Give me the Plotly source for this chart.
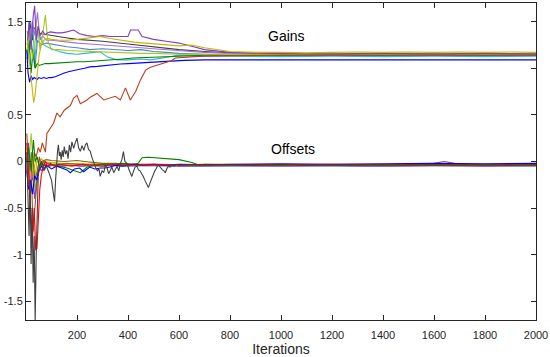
import plotly.graph_objects as go

# ---------------- Gains ----------------
g_blue_x = [3, 8, 14, 20, 26, 32, 38, 44, 50, 60, 70, 80, 90, 100, 115, 130, 150, 170, 190, 210, 230, 250, 280, 310, 340, 370, 400, 430, 460, 490, 520, 550, 580, 620, 700, 800, 900, 1000, 1100, 1200, 1300, 1400, 1500, 1600, 1700, 1800, 1900, 2000]
g_blue_y = [1.2, 0.95, 0.85, 0.92, 0.88, 0.9, 0.89, 0.88, 0.9, 0.89, 0.9, 0.89, 0.9, 0.9, 0.91, 0.93, 0.95, 0.965, 0.98, 0.99, 1.0, 1.015, 1.02, 1.03, 1.04, 1.045, 1.05, 1.055, 1.06, 1.065, 1.07, 1.075, 1.085, 1.085, 1.09, 1.09, 1.088, 1.09, 1.09, 1.09, 1.088, 1.09, 1.09, 1.088, 1.09, 1.09, 1.09, 1.09]

g_green_x = [5, 12, 20, 28, 36, 44, 52, 60, 75, 90, 110, 140, 170, 200, 230, 260, 300, 340, 380, 420, 460, 500, 540, 580, 620, 700, 800, 900, 1000, 1200, 1400, 1600, 1800, 2000]
g_green_y = [1.1, 1.3, 0.95, 1.2, 1.0, 1.05, 1.03, 1.04, 1.05, 1.05, 1.055, 1.06, 1.065, 1.07, 1.07, 1.075, 1.08, 1.09, 1.1, 1.11, 1.115, 1.12, 1.125, 1.13, 1.135, 1.14, 1.14, 1.145, 1.14, 1.145, 1.14, 1.145, 1.14, 1.145]

g_lime_x = [5, 15, 25, 35, 45, 55, 65, 76, 85, 100, 130, 160, 200, 250, 300, 350, 400, 450, 500, 550, 600, 700, 800, 900, 1000, 1200, 1400, 1600, 1800, 2000]
g_lime_y = [1.2, 1.4, 1.1, 1.3, 1.45, 1.2, 1.35, 1.57, 1.3, 1.2, 1.2, 1.19, 1.185, 1.18, 1.175, 1.17, 1.165, 1.16, 1.16, 1.155, 1.15, 1.15, 1.15, 1.15, 1.15, 1.15, 1.15, 1.15, 1.15, 1.15]

g_olive_x = [5, 12, 20, 26, 30, 35, 40, 45, 52, 60, 70, 85, 100, 130, 160, 200, 250, 290, 330, 380, 423, 470, 550, 600, 650, 700, 800, 900, 1000, 1100, 1200, 1300, 1400, 1500, 1600, 1700, 1800, 1900, 2000]
g_olive_y = [1.3, 1.1, 0.9, 0.7, 0.63, 0.7, 0.85, 1.0, 1.15, 1.25, 1.3, 1.32, 1.31, 1.3, 1.3, 1.31, 1.33, 1.34, 1.32, 1.3, 1.28, 1.27, 1.25, 1.24, 1.25, 1.22, 1.18, 1.17, 1.17, 1.165, 1.17, 1.175, 1.17, 1.175, 1.17, 1.175, 1.17, 1.175, 1.17]

g_purple_x = [5, 12, 20, 28, 34, 40, 48, 56, 65, 75, 85, 96, 120, 140, 160, 187, 210, 240, 270, 300, 330, 360, 400, 410, 423, 440, 455, 470, 500, 550, 600, 657, 700, 800, 900, 1000, 1200, 1400, 1600, 1800, 2000]
g_purple_y = [1.25, 1.5, 1.2, 1.55, 1.67, 1.3, 1.45, 1.35, 1.4, 1.36, 1.38, 1.39, 1.38, 1.38, 1.39, 1.41, 1.37, 1.35, 1.34, 1.35, 1.34, 1.34, 1.34, 1.41, 1.41, 1.41, 1.34, 1.33, 1.31, 1.29, 1.27, 1.23, 1.2, 1.17, 1.16, 1.155, 1.15, 1.155, 1.15, 1.155, 1.15]

g_violet_x = [5, 15, 25, 35, 45, 55, 65, 80, 100, 130, 160, 200, 250, 292, 340, 400, 450, 500, 550, 600, 650, 700, 800, 900, 1000, 1200, 1400, 1600, 1800, 2000]
g_violet_y = [1.4, 1.2, 1.5, 1.35, 1.6, 1.3, 1.35, 1.3, 1.3, 1.29, 1.28, 1.27, 1.26, 1.25, 1.24, 1.23, 1.22, 1.21, 1.2, 1.19, 1.18, 1.17, 1.16, 1.155, 1.15, 1.15, 1.15, 1.15, 1.15, 1.15]

g_steel_x = [5, 15, 25, 35, 45, 60, 80, 100, 130, 160, 200, 250, 300, 350, 400, 450, 500, 550, 600, 700, 800, 1000, 1200, 1400, 1600, 1800, 2000]
g_steel_y = [1.1, 1.4, 1.2, 1.0, 1.3, 1.25, 1.27, 1.26, 1.24, 1.23, 1.22, 1.2, 1.21, 1.2, 1.19, 1.2, 1.18, 1.17, 1.16, 1.15, 1.14, 1.14, 1.14, 1.14, 1.14, 1.14, 1.14]

g_cyan_x = [5, 15, 25, 35, 45, 60, 70, 90, 110, 130, 160, 200, 230, 260, 291, 320, 357, 400, 450, 488, 520, 560, 592, 650, 700, 800, 1000, 1200, 1400, 1600, 1800, 2000]
g_cyan_y = [1.0, 1.3, 1.5, 1.1, 1.4, 1.3, 1.25, 1.22, 1.2, 1.18, 1.16, 1.15, 1.16, 1.17, 1.177, 1.12, 1.09, 1.09, 1.1, 1.09, 1.1, 1.12, 1.14, 1.135, 1.13, 1.13, 1.125, 1.13, 1.125, 1.13, 1.125, 1.13]

g_dark_x = [5, 15, 25, 30, 40, 50, 60, 80, 100, 150, 200, 250, 300, 400, 500, 600, 700, 800, 1000, 1200, 1400, 1600, 1800, 2000]
g_dark_y = [1.2, 1.5, 1.3, 1.44, 1.4, 1.38, 1.37, 1.36, 1.35, 1.33, 1.31, 1.3, 1.29, 1.26, 1.23, 1.2, 1.18, 1.165, 1.16, 1.155, 1.16, 1.155, 1.16, 1.155]

g_red_x = [18, 25, 32, 40, 48, 56, 64, 76, 82, 95, 108, 121, 134, 150, 174, 187, 200, 213, 239, 252, 278, 305, 330, 350, 370, 390, 409, 430, 448, 469, 488, 510, 530, 546, 570, 586, 620, 660, 700, 800, 900, 1000, 1200, 1400, 1600, 1800, 2000]
g_red_y = [0.0, -0.2, 0.1, 0.05, 0.15, 0.1, 0.2, 0.1, 0.3, 0.35, 0.41, 0.52, 0.48, 0.55, 0.6, 0.68, 0.71, 0.62, 0.66, 0.69, 0.73, 0.66, 0.68, 0.7, 0.66, 0.79, 0.66, 0.75, 0.87, 0.98, 1.01, 1.03, 1.04, 1.06, 1.08, 1.11, 1.12, 1.125, 1.13, 1.135, 1.14, 1.14, 1.14, 1.14, 1.14, 1.14, 1.14]

# ---------------- Offsets ----------------
o_gray_x = [3, 8, 12, 16, 20, 24, 28, 32, 36, 40, 44, 48, 55, 62, 70, 80, 90,
            100, 104, 108, 112, 116, 121, 124, 127, 131, 134, 138, 142, 146, 150, 155, 160, 165, 170, 175, 180,
            187, 193, 200, 206, 213, 220, 227, 233, 239, 245, 252, 258, 265, 272, 280, 286, 291, 298, 305, 311,
            318, 324, 330, 337, 344, 350, 357, 364, 370, 376, 382, 388, 396, 403, 409, 415, 422, 428, 435, 441,
            447, 454, 460, 466, 470, 475, 480, 485, 490, 495, 500, 505, 510, 515, 520, 527, 535, 541, 546, 552,
            558, 565, 572, 580, 590, 600,
            650, 700, 800, 900, 1000, 1100, 1200, 1300, 1400, 1500, 1600, 1700, 1800, 1900, 2000]
o_gray_y = [0.1, -0.4, -0.8, -0.2, -1.1, -0.5, -1.3, -0.8, -1.72, -1.0, -0.4, -0.15, -0.05, 0.0, -0.1, -0.05, -0.12,
            -0.2, -0.28, -0.38, -0.43, -0.2, 0.05, 0.12, 0.18, 0.06, 0.1, 0.02, 0.12, 0.05, 0.16, 0.08, 0.12, 0.03, 0.18, 0.1, 0.21,
            0.14, 0.2, 0.25, 0.15, 0.11, 0.17, 0.12, 0.18, 0.2, 0.13, 0.11, 0.05, -0.02, -0.06, -0.1, -0.08, -0.16, -0.1, -0.12, -0.04,
            -0.07, -0.13, -0.1, -0.06, -0.12, -0.08, -0.05, -0.1, -0.02, 0.02, 0.106, 0.0, -0.02, -0.08, -0.12, -0.16, -0.1, -0.06, -0.05, -0.09,
            -0.1, -0.13, -0.16, -0.2, -0.22, -0.25, -0.28, -0.24, -0.2, -0.16, -0.14, -0.1, -0.08, -0.05, -0.04, -0.07, -0.09, -0.1, -0.12, -0.08,
            -0.05, -0.06, -0.04, -0.05, -0.03, -0.04,
            -0.035, -0.04, -0.035, -0.04, -0.035, -0.04, -0.035, -0.04, -0.035, -0.04, -0.035, -0.04, -0.035, -0.04, -0.035]

o_red_x = [3, 8, 14, 20, 26, 32, 38, 43, 48, 54, 60, 68, 76, 85, 95, 110, 130, 150, 180, 220, 260, 300, 350, 400, 500, 600, 700, 800, 1000, 1200, 1400, 1600, 1800, 2000]
o_red_y = [0.2, -0.1, -0.3, -0.6, -0.8, -0.5, -0.95, -0.93, -0.6, -0.3, -0.15, -0.05, 0.0, -0.05, -0.02, -0.05, -0.03, -0.04, -0.05, -0.03, -0.04, -0.05, -0.03, -0.04, -0.035, -0.04, -0.035, -0.04, -0.035, -0.04, -0.035, -0.04, -0.035, -0.04]

o_brown_x = [3, 10, 16, 22, 28, 34, 40, 46, 52, 60, 70, 85, 100, 130, 160, 200, 250, 300, 400, 500, 600, 800, 1000, 1200, 1400, 1550, 1600, 1640, 1680, 1720, 1800, 2000]
o_brown_y = [0.3, 0.0, -0.4, -0.2, -0.75, -0.5, -0.3, -0.1, 0.05, -0.05, 0.0, -0.02, -0.04, -0.03, -0.02, -0.03, -0.04, -0.03, -0.035, -0.03, -0.035, -0.03, -0.035, -0.03, -0.035, -0.03, -0.02, 0.0, -0.02, -0.03, -0.035, -0.03]

o_blue_x = [3, 10, 18, 26, 34, 42, 50, 60, 70, 80, 100, 120, 140, 160, 174, 190, 210, 226, 250, 270, 292, 310, 330, 350, 380, 420, 460, 500, 550, 600, 700, 800, 1000, 1200, 1400, 1600, 1800, 2000]
o_blue_y = [-0.1, -0.3, -0.2, -0.35, -0.15, -0.2, -0.1, -0.05, -0.08, -0.04, -0.08, -0.05, -0.07, -0.09, -0.12, -0.08, -0.07, -0.11, -0.06, -0.08, -0.07, -0.07, -0.06, -0.04, -0.05, -0.03, -0.04, -0.03, -0.04, -0.03, -0.035, -0.03, -0.025, -0.03, -0.025, -0.02, -0.025, -0.02]

o_green_x = [3, 10, 20, 29, 36, 44, 52, 60, 80, 100, 130, 160, 190, 213, 240, 270, 300, 340, 380, 420, 440, 455, 480, 500, 550, 600, 650, 680, 700, 800, 1000, 1200, 1400, 1600, 1800, 2000]
o_green_y = [0.0, 0.15, -0.1, 0.23, 0.0, 0.05, -0.05, -0.02, -0.05, -0.03, -0.05, -0.07, -0.1, -0.12, -0.06, -0.04, -0.03, -0.03, -0.02, -0.03, -0.02, 0.04, 0.045, 0.04, 0.035, 0.02, -0.01, -0.04, -0.03, -0.035, -0.04, -0.035, -0.04, -0.035, -0.04, -0.035]

o_olive_x = [3, 12, 22, 32, 42, 55, 70, 90, 120, 150, 200, 250, 300, 350, 400, 450, 500, 550, 600, 700, 800, 900, 1000, 1100, 1200, 1300, 1400, 1500, 1600, 1700, 1800, 1900, 2000]
o_olive_y = [0.1, -0.2, 0.05, -0.3, 0.0, -0.02, 0.0, -0.01, -0.02, -0.03, -0.02, -0.03, -0.04, -0.03, -0.04, -0.03, -0.035, -0.03, -0.04, -0.03, -0.04, -0.035, -0.045, -0.04, -0.035, -0.04, -0.045, -0.035, -0.04, -0.045, -0.04, -0.035, -0.04]

o_purple_x = [3, 10, 18, 26, 34, 42, 50, 60, 75, 90, 110, 140, 180, 220, 260, 300, 400, 500, 600, 800, 1000, 1200, 1400, 1600, 1800, 2000]
o_purple_y = [-0.1, 0.2, -0.3, -0.1, -0.4, -0.2, -0.05, -0.1, -0.03, -0.05, -0.04, -0.05, -0.04, -0.05, -0.03, -0.04, -0.045, -0.04, -0.05, -0.045, -0.05, -0.045, -0.05, -0.045, -0.05, -0.045]

o_dkolive_x = [3, 12, 24, 36, 48, 60, 80, 100, 150, 200, 230, 260, 300, 350, 400, 500, 600, 700, 800, 900, 1000, 1200, 1400, 1600, 1800, 2000]
o_dkolive_y = [0.05, -0.15, 0.1, -0.2, -0.05, 0.0, 0.02, 0.01, 0.0, 0.01, 0.0, -0.01, -0.02, -0.02, -0.03, -0.03, -0.035, -0.04, -0.035, -0.04, -0.035, -0.04, -0.035, -0.04, -0.035, -0.04]

o_cyan_x = [3, 10, 20, 30, 40, 50, 65, 80, 100, 130, 170, 220, 300, 400, 500, 700, 1000, 1300, 1600, 2000]
o_cyan_y = [0.0, -0.25, 0.1, -0.15, -0.3, -0.05, -0.02, -0.05, -0.04, -0.05, -0.04, -0.05, -0.045, -0.05, -0.045, -0.05, -0.045, -0.05, -0.045, -0.05]

o_lime_x = [3, 10, 20, 30, 40, 50, 60, 80, 100, 150, 200, 300, 400, 500, 700, 1000, 1300, 1600, 2000]
o_lime_y = [0.15, -0.05, 0.3, -0.1, 0.05, -0.02, 0.03, -0.02, -0.01, -0.02, -0.03, -0.025, -0.03, -0.035, -0.03, -0.035, -0.03, -0.035, -0.03]

x_tick_vals = [200, 400, 600, 800, 1000, 1200, 1400, 1600, 1800, 2000]
x_tick_text = ["200", "400", "600", "800", "1000", "1200", "1400", "1600", "1800", "2000"]
y_tick_vals = [-1.5, -1, -0.5, 0, 0.5, 1, 1.5]
y_tick_text = ["-1.5", "-1", "-0.5", "0", "0.5", "1", "1.5"]

series = [
    (g_dark_x, g_dark_y, "#404040"),
    (g_steel_x, g_steel_y, "#4F86C0"),
    (g_cyan_x, g_cyan_y, "#30B8C8"),
    (g_violet_x, g_violet_y, "#A070E0"),
    (g_green_x, g_green_y, "#008000"),
    (g_blue_x, g_blue_y, "#0000FF"),
    (g_lime_x, g_lime_y, "#A8C81E"),
    (g_purple_x, g_purple_y, "#7F3FBF"),
    (g_olive_x, g_olive_y, "#C8B400"),
    (g_red_x, g_red_y, "#B8401C"),
    (o_cyan_x, o_cyan_y, "#30B8C8"),
    (o_lime_x, o_lime_y, "#A8C81E"),
    (o_purple_x, o_purple_y, "#7F3FBF"),
    (o_dkolive_x, o_dkolive_y, "#7F6A00"),
    (o_olive_x, o_olive_y, "#C8B400"),
    (o_brown_x, o_brown_y, "#A0522D"),
    (o_green_x, o_green_y, "#008000"),
    (o_blue_x, o_blue_y, "#0000FF"),
    (o_red_x, o_red_y, "#FF0000"),
    (o_gray_x, o_gray_y, "#404040"),
]

fig = go.Figure()
for xs, ys, col in series:
    fig.add_trace(go.Scatter(x=xs, y=ys, mode="lines",
                             line=dict(color=col, width=1.1),
                             showlegend=False, hoverinfo="skip"))

fig.add_annotation(x=1023, y=1.345, text="Gains", showarrow=False,
                   font=dict(family="Liberation Sans, Arial", size=14, color="#000000"))
fig.add_annotation(x=1048, y=0.135, text="Offsets", showarrow=False,
                   font=dict(family="Liberation Sans, Arial", size=14, color="#000000"))

axis_common = dict(showline=True, linecolor="#262626", linewidth=1,
                   mirror="ticks", ticks="inside", ticklen=5, tickcolor="#262626",
                   showgrid=False, zeroline=False, automargin=False,
                   tickfont=dict(family="Liberation Sans, Arial", size=11, color="#262626"))

fig.update_xaxes(range=[0, 2000], tickvals=x_tick_vals, ticktext=x_tick_text,
                 ticklabelstandoff=5,
                 title=dict(text="Iterations", standoff=4,
                            font=dict(family="Liberation Sans, Arial", size=14, color="#262626")),
                 **axis_common)
fig.update_yaxes(range=[-1.7, 1.7], tickvals=y_tick_vals, ticktext=y_tick_text,
                 **axis_common)

fig.update_layout(width=550, height=357,
                  margin=dict(l=26, r=14, t=3, b=37),
                  paper_bgcolor="white", plot_bgcolor="white",
                  font=dict(family="Liberation Sans, Arial"))

fig.write_html("out.html", config={"displayModeBar": False},
               post_script="document.body.style.margin='0';document.body.style.overflow='hidden';")
